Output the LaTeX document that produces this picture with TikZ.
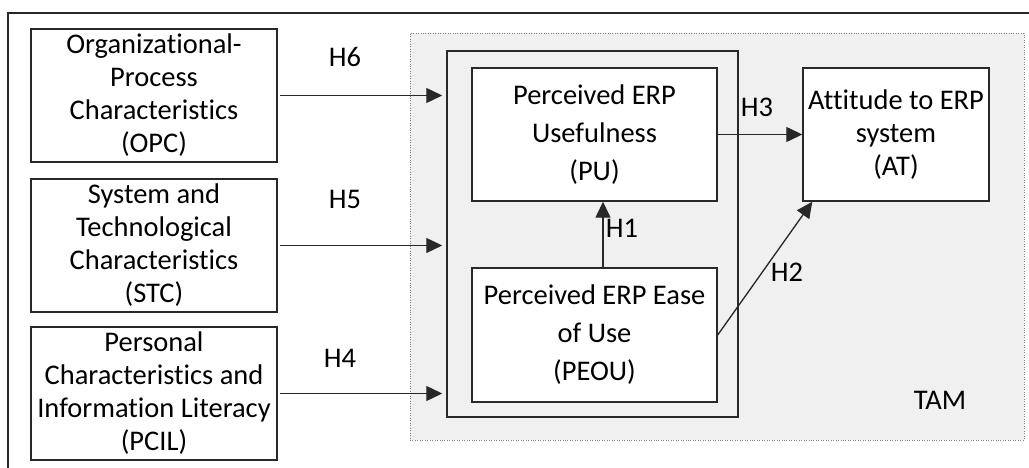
\documentclass[tikz,border=0pt]{standalone}
\usepackage{fontspec}
\setmainfont{Carlito}[Ligatures=CommonOff]
\usepackage{tikz}
\usetikzlibrary{arrows.meta}
\definecolor{TamGray}{RGB}{240,240,240}
\definecolor{FrameGray}{RGB}{40,40,40}

\begin{document}
\begin{tikzpicture}[
  factor/.style={
    draw=FrameGray,
    fill=white,
    line width=0.8pt,
    align=center, font=\fontsize{16.2}{18.8}\selectfont,
    inner sep=0pt,
    minimum width=4.92cm,
    minimum height=2.66cm},
  construct/.style={
    factor,
    minimum width=4.9cm,
    font=\fontsize{16.2}{21.6}\selectfont},
  hyp/.style={
    font=\fontsize{16.2}{18}\selectfont},
  arrow/.style={
    FrameGray,-{Triangle[length=0.32cm,width=0.3cm]},line width=0.75pt}
]
\useasboundingbox (0,0) rectangle (20.58,-9.36);

\draw[FrameGray, line width=0.8pt] (0.16,-9.36) |- (20.58,-0.26);

\node[draw=gray, densely dotted, fill=TamGray,
  minimum width=12.28cm, minimum height=8.14cm]
  (tam) at (14.34,-4.73) {};
\node[draw=FrameGray, line width=0.8pt, fill=TamGray,
  minimum width=5.82cm, minimum height=7.32cm]
  (core) at (11.85,-4.68) {};

\node[factor] (opc) at (3.08,-1.91)
  {Organizational-\\Process\\Characteristics\\(OPC)};
\node[factor] (stc) at (3.08,-4.91)
  {System and\\Technological\\Characteristics\\(STC)};
\node[factor] (pcil) at (3.08,-7.87)
  {Personal\\Characteristics and\\Information Literacy\\(PCIL)};

\node[construct] (pu) at (11.89,-2.69)
  {Perceived ERP\\Usefulness\\(PU)};
\node[construct, minimum height=2.68cm] (peou) at (11.89,-6.70)
  {Perceived ERP Ease\\of Use\\(PEOU)};
\node[factor, minimum width=3.72cm] (att) at (17.92,-2.69)
  {Attitude to ERP\\system\\(AT)};

\node[hyp] (h6) at (6.9,-1.14) {H6};
\node[hyp] (h5) at (6.9,-3.98) {H5};
\node[hyp] (h4) at (6.8,-7.16) {H4};
\node[hyp] (h3) at (15.14,-2.14) {H3};
\node[hyp] (h1) at (12.44,-4.56) {H1};
\node[hyp] (h2) at (15.74,-5.44) {H2};
\node[hyp] (tamlabel) at (18.8,-8.0) {TAM};

\foreach \f in {opc,stc,pcil}{
  \draw[arrow, shorten <=1.5pt, shorten >=2.3pt]
    (\f.east) -- (\f.east -| core.west);
}
\draw[arrow] (pu.east) -- (pu.east -| att.west);
\draw[arrow] ([xshift=0.17cm]peou.north) -- ([xshift=0.17cm]pu.south);
\draw[arrow] (peou.east) -- ([xshift=0.2cm]att.south west);
\end{tikzpicture}
\end{document}
